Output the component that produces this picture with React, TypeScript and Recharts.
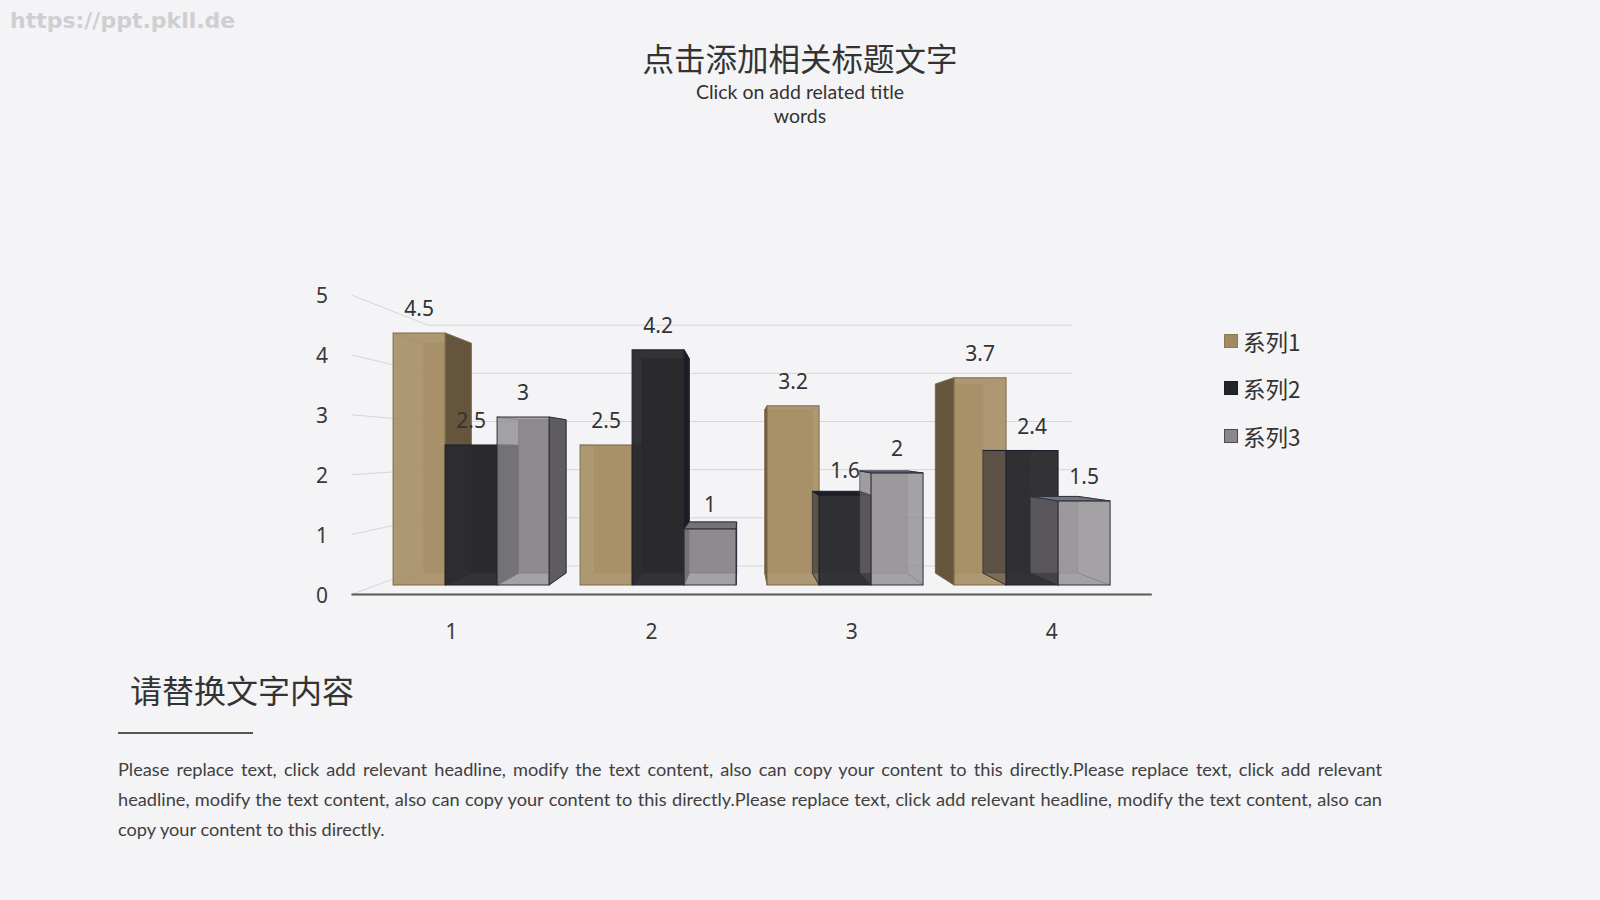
import React from "react";
import { BarChart, Bar, XAxis, YAxis, CartesianGrid, LabelList } from "recharts";

const categories = ["1", "2", "3", "4"];
const series1 = [4.5, 2.5, 3.2, 3.7];
const series2 = [2.5, 4.2, 1.6, 2.4];
const series3 = [3, 1, 2, 1.5];
const seriesNames = ["系列1", "系列2", "系列3"];
const yTicks = [0, 1, 2, 3, 4, 5];

const data = categories.map((c, i) => ({ cat: c, s1: series1[i], s2: series2[i], s3: series3[i] }));

// perspective (style constants)
const VX = 742;
const VY = 449;
const KB = 0.912; // back face of bars
const K2 = 0.86; // back wall
const K0 = 1.07; // front label plane

const PLOT_TOP = 305;
const PLOT_BOTTOM = 585;
const PLOT_LEFT = 377;
const PLOT_RIGHT = 1125;
const Y_AXIS_W = 40;
const X_AXIS_H = 40;

const proj = (px: number, py: number, k: number) => [VX + k * (px - VX), VY + k * (py - VY)];
const pts = (arr: number[][]) => arr.map((p) => p.join(",")).join(" ");

type Style = {
  front: string; side: string; top: string; edge: string; op: number; leftSideOp: number; legend: string; legendEdge: string;
};
const styles: Style[] = [
  { front: "#a89068", side: "#65553d", top: "#7a6849", edge: "#7f6b48", op: 0.93, leftSideOp: 1, legend: "#a08a62", legendEdge: "#8d7853" },
  { front: "#2b2b2e", side: "#1b1b20", top: "#1f1f24", edge: "#1c2030", op: 0.96, leftSideOp: 0.35, legend: "#252527", legendEdge: "#1c1c1f" },
  { front: "#8e8a8e", side: "#5e5b61", top: "#757278", edge: "#2e313f", op: 0.78, leftSideOp: 0.4, legend: "#8a868b", legendEdge: "#4a4a55" },
];

const makeShape = (s: Style) => (props: any) => {
  const { x, y, width, height } = props;
  if (width == null || height == null || isNaN(x) || isNaN(y)) return <g />;
  const xl = x, xr = x + width, yt = y, yb = y + height;
  const fTL = [xl, yt], fTR = [xr, yt], fBR = [xr, yb], fBL = [xl, yb];
  const bTL = proj(xl, yt, KB), bTR = proj(xr, yt, KB), bBR = proj(xr, yb, KB), bBL = proj(xl, yb, KB);
  const leftVisible = xl > VX;
  const backOp = leftVisible ? s.leftSideOp : 1;
  return (
    <g>
      <polygon
        points={pts([bTL, bTR, bBR, bBL])}
        fill={s.front}
        fillOpacity={backOp}
        stroke={s.edge}
        strokeOpacity={0.6 * backOp}
        strokeWidth={1}
      />
      <line x1={fBL[0]} y1={fBL[1]} x2={bBL[0]} y2={bBL[1]} stroke={s.edge} strokeOpacity={0.6} />
      <line x1={fBR[0]} y1={fBR[1]} x2={bBR[0]} y2={bBR[1]} stroke={s.edge} strokeOpacity={0.6} />
      <line x1={fTL[0]} y1={fTL[1]} x2={bTL[0]} y2={bTL[1]} stroke={s.edge} strokeOpacity={0.6} />
      <line x1={fTR[0]} y1={fTR[1]} x2={bTR[0]} y2={bTR[1]} stroke={s.edge} strokeOpacity={0.6} />
      {xr < VX && <polygon points={pts([fTR, bTR, bBR, fBR])} fill={s.side} stroke={s.edge} strokeWidth={1} />}
      {leftVisible && (
        <polygon
          points={pts([fTL, bTL, bBL, fBL])}
          fill={s.side}
          fillOpacity={s.leftSideOp}
          stroke={s.edge}
          strokeOpacity={s.leftSideOp}
          strokeWidth={1}
        />
      )}
      {yt > VY && <polygon points={pts([fTL, fTR, bTR, bTL])} fill={s.top} stroke={s.edge} strokeWidth={1} />}
      <rect x={xl} y={yt} width={width} height={height} fill={s.front} fillOpacity={s.op} stroke={s.edge} strokeWidth={1} />
    </g>
  );
};

const gridLine = (p: any) => {
  const y = p.y1;
  const a = proj(p.x1, y, K0);
  const b = proj(p.x1, y, K2);
  const c = proj(p.x2, y, K2);
  const d = proj(p.x2, y, K0);
  const isBase = Math.abs(y - PLOT_BOTTOM) < 1;
  return (
    <g key={`hg-${p.index}-${y}`}>
      <polyline points={pts([a, b, c])} fill="none" stroke="#d6d6d9" strokeWidth={1} />
      {isBase && <line x1={a[0]} y1={a[1]} x2={d[0]} y2={d[1]} stroke="#595959" strokeWidth={2} />}
    </g>
  );
};

const numFont = "'Noto Sans', 'Noto Sans CJK SC', sans-serif";

const XTick = (props: any) => {
  const { x, y, payload } = props;
  const p = proj(x, y + 34, K0);
  return (
    <text x={p[0]} y={p[1]} textAnchor="middle" dominantBaseline="central" fontSize={21} fill="#3a3a3a" fontFamily={numFont}>
      {payload.value}
    </text>
  );
};

const YTick = (props: any) => {
  const { x, y, payload } = props;
  const p = proj(x, y, K0);
  return (
    <text x={322} y={p[1]} textAnchor="middle" dominantBaseline="central" fontSize={21} fill="#3a3a3a" fontFamily={numFont}>
      {payload.value}
    </text>
  );
};

const keys = ["s1", "s2", "s3"];

const para =
  "Please replace text, click add relevant headline, modify the text content, also can copy your content to this directly.";
const line1 = para + "Please replace text, click add relevant";
const line2 = "headline, modify the text content, also can copy your content to this directly.Please replace text, click add relevant headline, modify the text content, also can";
const line3 = "copy your content to this directly.";

export default function App() {
  return (
    <div
      style={{
        position: "absolute",
        left: 0,
        top: 0,
        width: 1600,
        height: 900,
        background: "#f4f3f6",
        overflow: "hidden",
      }}
    >
      <div
        style={{
          position: "absolute",
          left: 10,
          top: 7,
          fontFamily: "'DejaVu Sans', sans-serif",
          fontWeight: 700,
          fontSize: 22,
          lineHeight: "28px",
          color: "#cfcfd1",
        }}
      >
        https://ppt.pkll.de
      </div>
      <div
        style={{
          position: "absolute",
          left: 0,
          width: 1600,
          top: 39,
          textAlign: "center",
          fontFamily: "'Noto Sans CJK SC', sans-serif",
          fontSize: 31.5,
          color: "#333",
          lineHeight: "36px",
        }}
      >
        点击添加相关标题文字
      </div>
      <div
        style={{
          position: "absolute",
          left: 0,
          width: 1600,
          top: 80,
          textAlign: "center",
          fontFamily: "'Lato', sans-serif",
          fontSize: 19.5,
          color: "#333",
          lineHeight: "23.5px",
        }}
      >
        <div>Click on add related title</div>
        <div>words</div>
      </div>

      <div style={{ position: "absolute", left: 0, top: 0 }}>
        <BarChart
          width={1600}
          height={900}
          data={data}
          margin={{
            top: PLOT_TOP,
            bottom: 900 - PLOT_BOTTOM - X_AXIS_H,
            left: PLOT_LEFT - Y_AXIS_W,
            right: 1600 - PLOT_RIGHT,
          }}
          barCategoryGap="8.6%"
          barGap={0}
        >
          <CartesianGrid vertical={false} horizontal={gridLine} />
          <XAxis dataKey="cat" axisLine={false} tickLine={false} tickSize={0} tickMargin={0} height={X_AXIS_H} tick={<XTick />} interval={0} />
          <YAxis
            domain={[0, 5]}
            ticks={yTicks}
            axisLine={false}
            tickLine={false}
            tickSize={0}
            tickMargin={0}
            width={Y_AXIS_W}
            tick={<YTick />}
            interval={0}
          />
          {keys.map((k, i) => (
            <Bar key={k} dataKey={k} name={seriesNames[i]} fill={styles[i].legend} isAnimationActive={false} shape={makeShape(styles[i])}>
              <LabelList dataKey={k} position="top" offset={17} fontSize={21} fill="#333" fontFamily={numFont} />
            </Bar>
          ))}
        </BarChart>
      </div>

      <div style={{ position: "absolute", left: 1224, top: 317 }}>
        {seriesNames.map((n, i) => (
          <div key={n} style={{ display: "flex", alignItems: "center", height: 47.5 }}>
            <div
              style={{
                width: 12,
                height: 12,
                background: styles[i].legend,
                border: `1px solid ${styles[i].legendEdge}`,
                marginRight: 5,
              }}
            />
            <span style={{ fontFamily: "'Noto Sans CJK SC', sans-serif", fontSize: 22.5, color: "#333" }}>{n}</span>
          </div>
        ))}
      </div>

      <div
        style={{
          position: "absolute",
          left: 130,
          top: 668,
          fontFamily: "'Noto Sans CJK SC', sans-serif",
          fontSize: 32,
          color: "#333",
          lineHeight: "42px",
        }}
      >
        请替换文字内容
      </div>
      <div style={{ position: "absolute", left: 118, top: 732, width: 135, height: 2, background: "#555" }} />

      <div
        style={{
          position: "absolute",
          left: 118,
          top: 754,
          width: 1264,
          fontFamily: "'Lato', sans-serif",
          fontSize: 18.2,
          color: "#404040",
          lineHeight: "30px",
        }}
      >
        {[line1, line2].map((l, i) => (
          <div key={i} style={{ textAlign: "justify", textAlignLast: "justify", whiteSpace: "nowrap" as any }}>
            {l}
          </div>
        ))}
        <div>{line3}</div>
      </div>
    </div>
  );
}
